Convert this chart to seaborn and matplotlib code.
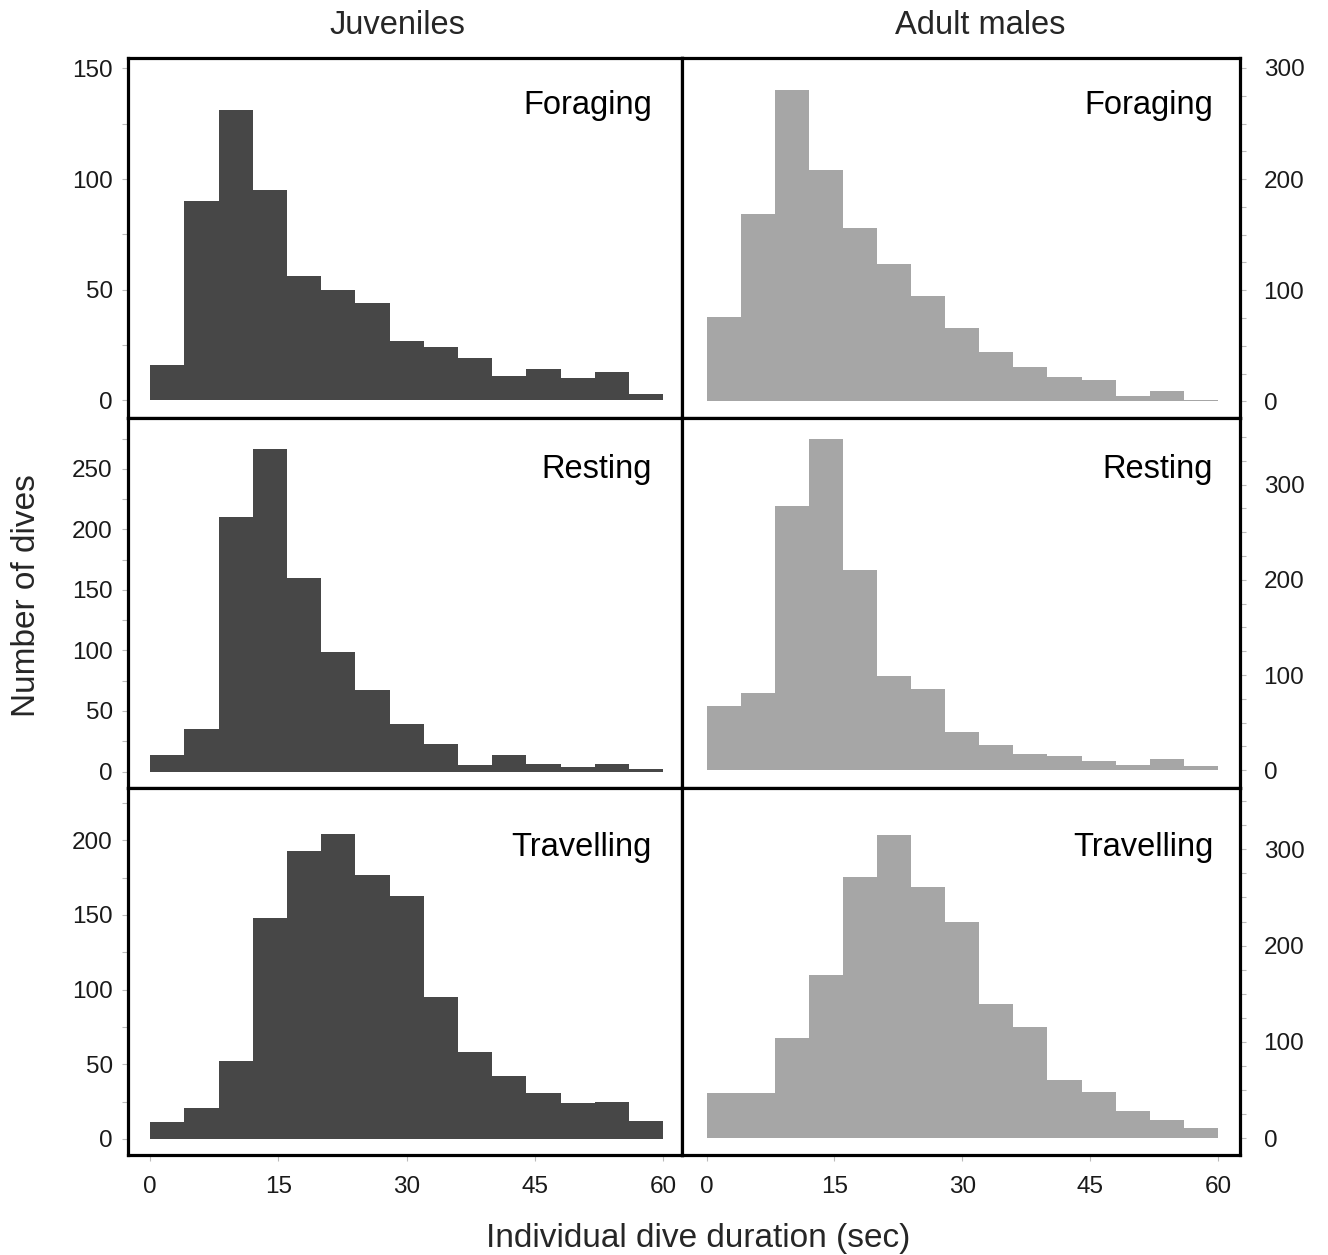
import numpy as np
import pandas as pd
import matplotlib
matplotlib.use("Agg")
import matplotlib.pyplot as plt
from matplotlib.ticker import MultipleLocator
import seaborn as sns

# ---------------- data (counts per 4-s bin, 0-60 s) ----------------
bin_edges = list(range(0, 64, 4))
bin_starts = bin_edges[:-1]

juv_foraging = [16, 90, 131, 95, 56, 50, 44, 27, 24, 19, 11, 14, 10, 13, 3]
juv_resting = [14, 35, 210, 266, 160, 99, 67, 39, 23, 5, 14, 6, 4, 6, 2]
juv_travelling = [11, 21, 52, 148, 193, 204, 177, 163, 95, 58, 42, 31, 24, 25, 12]

adm_foraging = [76, 169, 280, 208, 156, 124, 95, 66, 44, 31, 22, 19, 5, 9, 1]
adm_resting = [68, 81, 278, 348, 210, 99, 85, 40, 27, 17, 15, 10, 6, 12, 4]
adm_travelling = [47, 47, 104, 169, 271, 315, 261, 224, 139, 115, 60, 48, 28, 19, 11]

behaviours = ["Foraging", "Resting", "Travelling"]
groups = ["Juveniles", "Adult males"]
x_ticks = [0, 15, 30, 45, 60]

series = {
    ("Juveniles", "Foraging"): juv_foraging,
    ("Juveniles", "Resting"): juv_resting,
    ("Juveniles", "Travelling"): juv_travelling,
    ("Adult males", "Foraging"): adm_foraging,
    ("Adult males", "Resting"): adm_resting,
    ("Adult males", "Travelling"): adm_travelling,
}

# ---------------- styling ----------------
sns.set_theme(style="white")
plt.rcParams["font.family"] = ["Liberation Sans", "DejaVu Sans"]

colors = {"Juveniles": "#474747", "Adult males": "#a6a6a6"}
ylims = {
    ("Juveniles", "Foraging"): (-8, 154.7), ("Adult males", "Foraging"): (-15, 309),
    ("Juveniles", "Resting"): (-13.6, 292), ("Adult males", "Resting"): (-18.6, 370),
    ("Juveniles", "Travelling"): (-10.8, 235), ("Adult males", "Travelling"): (-17.4, 363.6),
}
ymajor = {
    ("Juveniles", "Foraging"): 50, ("Adult males", "Foraging"): 100,
    ("Juveniles", "Resting"): 50, ("Adult males", "Resting"): 100,
    ("Juveniles", "Travelling"): 50, ("Adult males", "Travelling"): 100,
}
label_y = {"Foraging": 0.869, "Resting": 0.86, "Travelling": 0.837}

W, H = 1328, 1255
fig = plt.figure(figsize=(W / 100, H / 100), dpi=100)

col_px = {"Juveniles": (128, 682), "Adult males": (682, 1240)}
row_px = {"Foraging": (58, 418), "Resting": (418, 788), "Travelling": (788, 1155)}
xlims = {"Juveniles": (-2.6, 62.2), "Adult males": (-2.9, 62.6)}
label_x = {"Juveniles": 0.946, "Adult males": 0.952}

TICK_FS = 17.5
for g in groups:
    x0, x1 = col_px[g]
    for b in behaviours:
        y0, y1 = row_px[b]
        ax = fig.add_axes([x0 / W, 1 - y1 / H, (x1 - x0) / W, (y1 - y0) / H])
        df = pd.DataFrame({"start": np.array(bin_starts) + 2, "count": series[(g, b)]})
        sns.histplot(data=df, x="start", weights="count", bins=bin_edges,
                     color=colors[g], alpha=1, linewidth=0, ax=ax)
        ax.set_xlim(*xlims[g])
        ax.set_ylim(*ylims[(g, b)])
        ax.set_xlabel("")
        ax.set_ylabel("")
        for sp in ax.spines.values():
            sp.set_linewidth(2.3)
            sp.set_color("black")
        ax.yaxis.set_major_locator(MultipleLocator(ymajor[(g, b)]))
        ax.yaxis.set_minor_locator(MultipleLocator(25))
        ax.tick_params(axis="y", which="both", direction="out", length=4,
                       width=0.8, color="#bbbbbb", labelsize=TICK_FS, labelcolor="#1a1a1a")
        ax.tick_params(axis="y", which="major", pad=7)
        if g == "Adult males":
            ax.yaxis.tick_right()
            ax.tick_params(axis="y", which="both", left=False, right=True, pad=13)
        else:
            ax.tick_params(axis="y", which="both", left=True, right=False)
        ax.set_xticks(x_ticks)
        if b == "Travelling":
            ax.tick_params(axis="x", which="major", direction="out", length=4, width=0.8,
                           color="#bbbbbb", labelsize=TICK_FS, labelcolor="#1a1a1a", pad=11,
                           bottom=True)
        else:
            ax.tick_params(axis="x", bottom=False, labelbottom=False)
        ax.text(label_x[g], label_y[b], b, transform=ax.transAxes, ha="right", va="center",
                fontsize=23.5, color="black")

fig.text(397 / W, 1 - 25 / H, "Juveniles", ha="center", va="center", fontsize=23.5)
fig.text(980 / W, 1 - 25 / H, "Adult males", ha="center", va="center", fontsize=23.5)
fig.text(698 / W, 1 - 1238 / H, "Individual dive duration (sec)", ha="center",
         va="center", fontsize=24)
fig.text(27 / W, 1 - 596 / H, "Number of dives", ha="center", va="center",
         rotation=90, fontsize=24)

fig.savefig("out.png", dpi=100, facecolor="white")
